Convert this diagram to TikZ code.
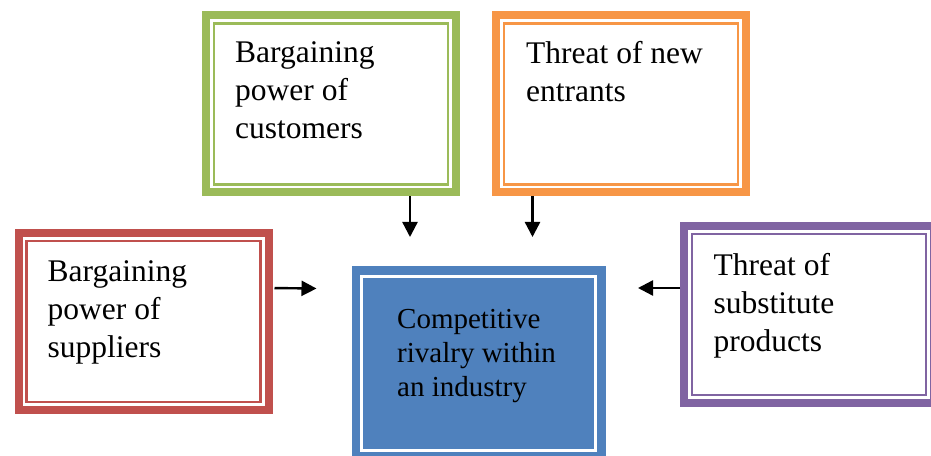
\documentclass[tikz,border=0pt]{standalone}
\usepackage{fontspec}
\setmainfont{Liberation Serif}
\usepackage{xcolor}
\usepackage{tikz}
\usetikzlibrary{arrows.meta}

\definecolor{custgreen}{HTML}{9BBB59}
\definecolor{entrorange}{HTML}{F79646}
\definecolor{suppred}{HTML}{C0504D}
\definecolor{subspurple}{HTML}{8064A2}
\definecolor{rivalblue}{HTML}{4F81BD}

\tikzset{
    forcebox/.style={draw=#1, line width=8pt, fill=white, minimum width=250pt, minimum height=177pt, inner sep=0pt, outer sep=0pt},
    boxtext/.style={anchor=north west, align=left, inner sep=0pt, font=\fontsize{31.5}{38}\selectfont, execute at begin node={\rule{0pt}{24pt}}},
    rivaltext/.style={boxtext, font=\fontsize{29}{34}\selectfont},
    flow/.style={-{Triangle[length=15pt,width=15pt]}, line width=2.4pt}
}

\begin{document}
\begin{tikzpicture}[x=1pt,y=1pt]
    \useasboundingbox (0,0) rectangle (931,455);
    % the four outer forces
    \node[forcebox=custgreen] (cust) at (331,351) {};
    \node[forcebox=entrorange] (entr) at (621,351) {};
    \node[forcebox=suppred] (supp) at (143.5,133.5) {};
    \node[forcebox=subspurple] (subs) at (809,140.5) {};
    \foreach \n/\c in {cust/custgreen, entr/entrorange, supp/suppred, subs/subspurple}
        \draw[\c, line width=2.5pt] ([shift={(8,-8)}]\n.north west) rectangle ([shift={(-8,8)}]\n.south east);
    % rivalry in the middle
    \node[draw=rivalblue, fill=rivalblue, minimum width=253pt, minimum height=194pt, inner sep=0pt, outer sep=0pt] (rival) at (478.5,92) {};
    \draw[white, line width=3pt] ([shift={(9.5,-11)}]rival.north west) rectangle ([shift={(-10,9.5)}]rival.south east);
    % texts
    \node[boxtext] (custtext) at ([shift={(29,-26)}]cust.north west) {Bargaining\\power of\\customers};
    \node[boxtext] (entrtext) at ([shift={(30,-26)}]entr.north west) {Threat of new\\entrants};
    \node[boxtext] (supptext) at ([shift={(29,-27.5)}]supp.north west) {Bargaining\\power of\\suppliers};
    \node[boxtext] (substext) at ([shift={(29.5,-27)}]subs.north west) {Threat of\\substitute\\products};
    \node[rivaltext] (rivaltxt) at ([shift={(45,-43)}]rival.north west) {Competitive\\rivalry within\\an industry};
    % arrows
    \draw[flow, shorten <=4pt] ([xshift=79pt]cust.south) -- ([xshift=-68.5pt,yshift=29pt]rival.north);
    \draw[flow, shorten <=4pt] ([xshift=-88.5pt]entr.south) -- ([xshift=54pt,yshift=29pt]rival.north);
    \draw[flow, shorten <=6pt] ([yshift=33.5pt]supp.east) -- ([xshift=-35.5pt,yshift=74.5pt]rival.west);
    \draw[flow, shorten <=4pt] ([yshift=26.5pt]subs.west) -- ([xshift=33pt,yshift=75pt]rival.east);
\end{tikzpicture}
\end{document}
